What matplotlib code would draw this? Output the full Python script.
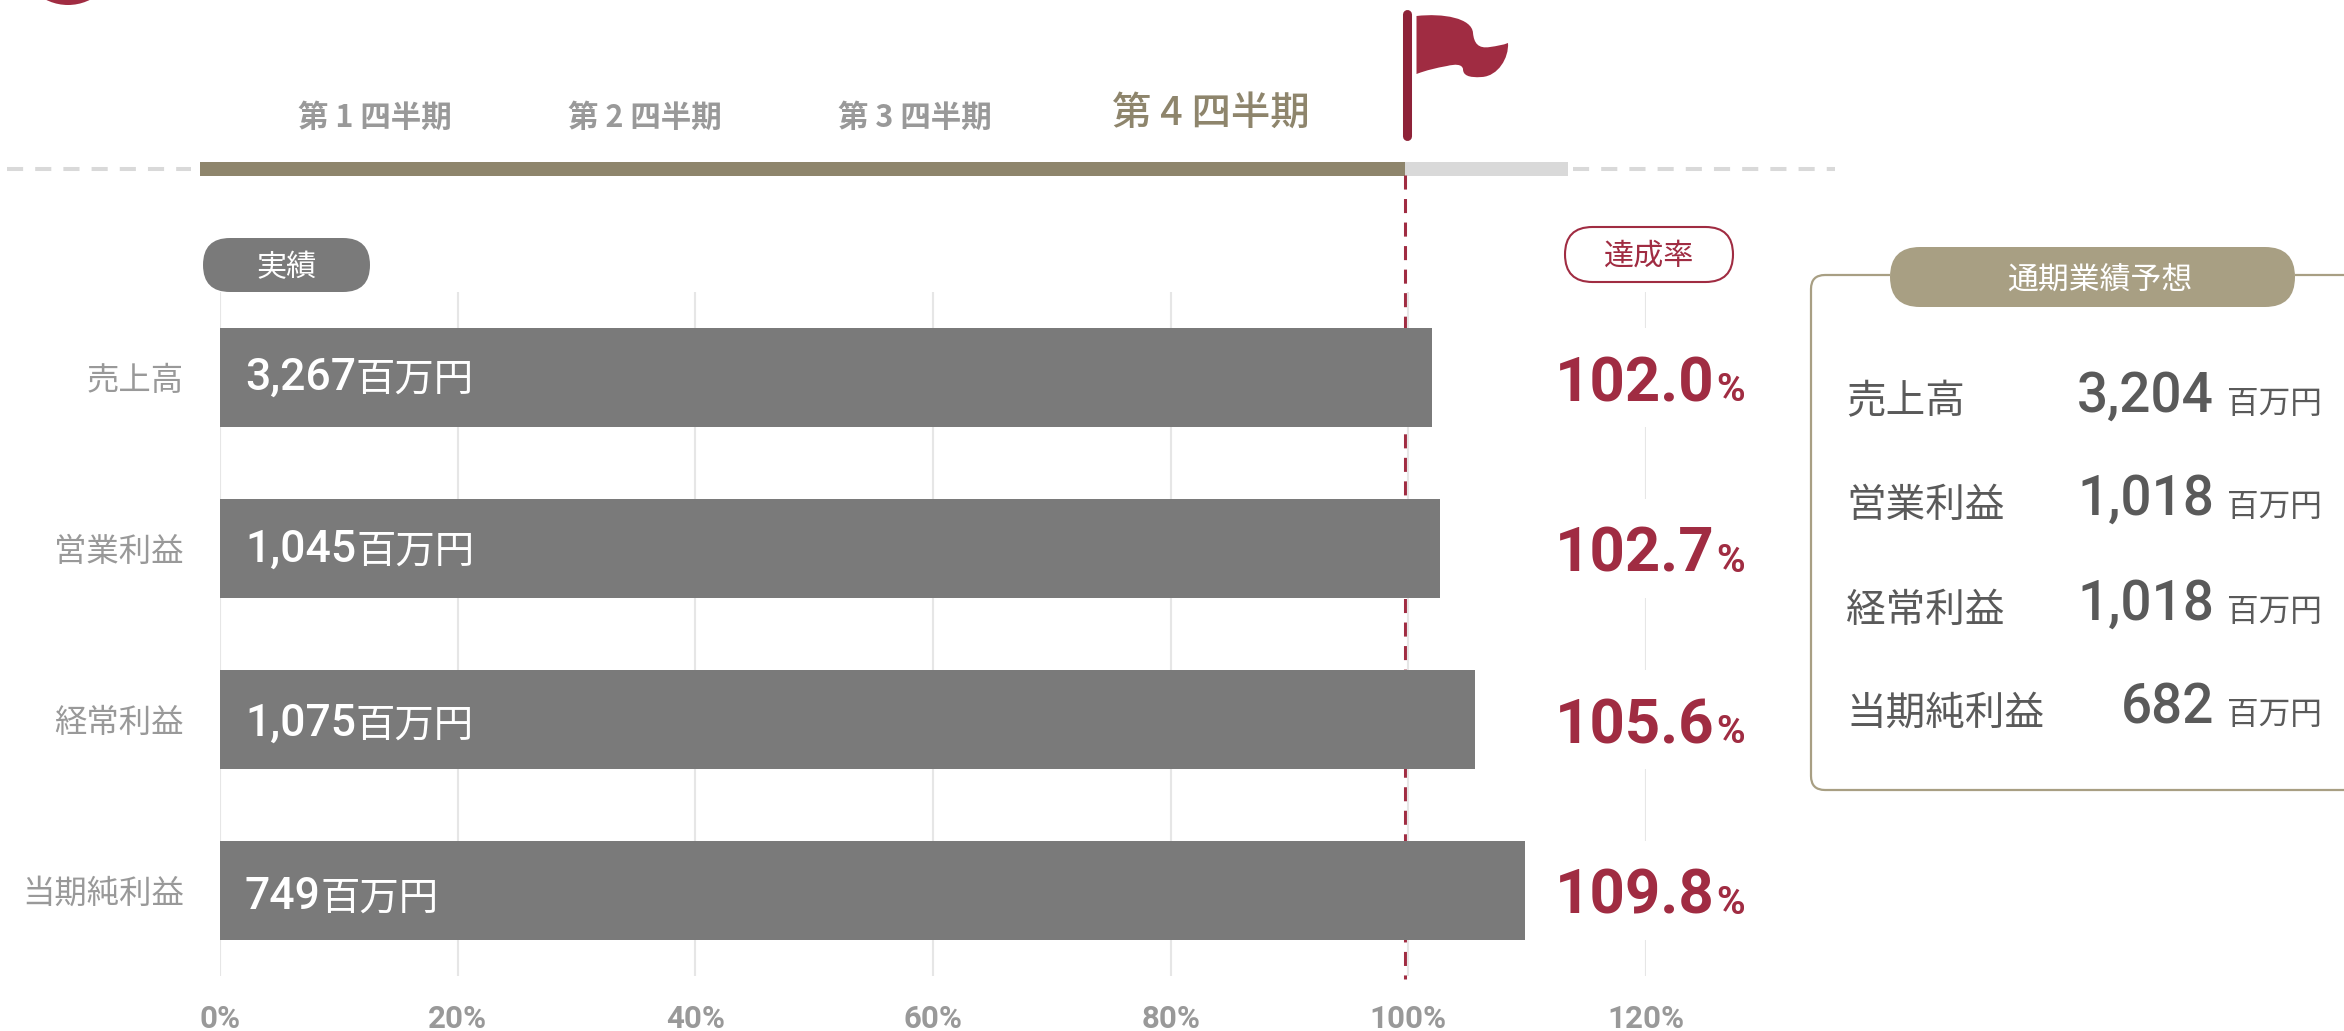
import matplotlib
matplotlib.use("Agg")
import matplotlib.pyplot as plt
from matplotlib.patches import Rectangle, FancyBboxPatch, PathPatch, Circle
from matplotlib.path import Path

W, H = 2344, 1031
CJK = "Noto Sans CJK JP"
LATIN = "Roboto"

CRIMSON = "#A02C42"
POLE = "#8E2238"
TAN_DARK = "#8E856C"
TAN = "#A89F83"
BAR_GREY = "#7A7A7A"
LABEL_GREY = "#999999"
TEXT_DARK = "#5A5A5A"
GRID = "#E6E6E6"
LIGHT = "#D9D9D9"

# Results against the full-year forecast
categories = ["売上高", "営業利益", "経常利益", "当期純利益"]
actual_mil_yen = [3267, 1045, 1075, 749]
achievement_pct = [102.0, 102.7, 105.6, 109.8]
forecast_mil_yen = [3204, 1018, 1018, 682]
quarters = ["第 1 四半期", "第 2 四半期", "第 3 四半期", "第 4 四半期"]
x_ticks = [0, 20, 40, 60, 80, 100, 120]
x_tick_labels = ["0%", "20%", "40%", "60%", "80%", "100%", "120%"]
unit = "百万円"

fig = plt.figure(figsize=(W / 100, H / 100), dpi=100, facecolor="white")


def overlay(z):
    a = fig.add_axes([0, 0, 1, 1], zorder=z)
    a.set_xlim(0, W)
    a.set_ylim(H, 0)
    a.axis("off")
    return a


back = overlay(0)
front = overlay(2)

# Bar panel, placed by pixel edges on the canvas
left, right, top, bottom = 220, 1646, 292, 976
ax = fig.add_axes([left / W, 1 - bottom / H, (right - left) / W, (bottom - top) / H], zorder=1)
ax.patch.set_visible(False)
ax.set_xlim(0, 120)
ax.set_ylim(3.5, -0.5)
for s in ax.spines.values():
    s.set_visible(False)

rows = list(range(len(categories)))
ax.vlines(x_ticks, -0.5, 3.5, color=GRID, lw=1.5, zorder=1)
ax.barh(rows, [4] * 4, left=118, height=0.575, color="white", zorder=2)
ax.barh(rows, achievement_pct, height=0.575, color=BAR_GREY, zorder=3)

ax.set_xticks(x_ticks)
ax.set_xticklabels(x_tick_labels, family=LATIN, fontweight="bold", fontsize=22.5, color=LABEL_GREY)
ax.set_yticks(rows)
ax.set_yticklabels(categories, family=CJK, fontsize=23.3, color=LABEL_GREY)
ax.tick_params(axis="x", length=0, pad=20)
ax.tick_params(axis="y", length=0, pad=26)

# Progress band and its dashed extensions
back.plot([7, 191], [169, 169], color=LIGHT, lw=2.9, dashes=(4, 3), dash_capstyle="butt")
back.plot([1573, 1835], [169, 169], color=LIGHT, lw=2.9, dashes=(4, 3), dash_capstyle="butt")
back.add_patch(Rectangle((200, 162), 1205, 14, fc=TAN_DARK, ec="none"))
back.add_patch(Rectangle((1405, 162), 163, 14, fc=LIGHT, ec="none"))
back.plot([1405, 1405], [175, 979], color=CRIMSON, lw=2.2, dashes=(4.6, 3.1), dash_capstyle="butt")

# Flag marking the full-year target
front.plot([1406.5, 1406.5], [14, 136], color=POLE, lw=6.5, solid_capstyle="round")
flag_path = Path(
    [(1416.5, 16), (1443, 13), (1472, 18), (1473, 33), (1474, 43), (1478, 49), (1490, 47),
     (1497, 46), (1503, 45), (1508, 43), (1509, 58), (1498, 76), (1482, 77), (1468, 78),
     (1463, 75), (1463, 69), (1462, 64), (1455, 64), (1447, 66), (1436, 68), (1427, 70),
     (1416.5, 74), (1416.5, 16)],
    [Path.MOVETO] + [Path.CURVE4] * 21 + [Path.CLOSEPOLY],
)
front.add_patch(PathPatch(flag_path, fc=CRIMSON, ec="none"))
front.add_patch(Circle((68, -44), 49, fc=CRIMSON, ec="none"))

# Quarter headings
quarter_x = [375, 645, 915]
for q, x in zip(quarters[:3], quarter_x):
    front.text(x, 114, q, family=CJK, fontweight="bold", fontsize=22, color=LABEL_GREY,
               ha="center", va="center_baseline")
front.text(1211, 109, quarters[3], family=CJK, fontweight="medium", fontsize=28.4, color=TAN_DARK,
           ha="center", va="center_baseline")


def pill(a, x0, y0, x1, y1, fc, ec="none", lw=0):
    r = (y1 - y0) / 2
    a.add_patch(FancyBboxPatch((x0 + r, y0 + r), x1 - x0 - 2 * r, 0,
                               boxstyle=f"round,pad={r},rounding_size={r}",
                               fc=fc, ec=ec, lw=lw))


pill(front, 203, 238, 370, 292, BAR_GREY)
front.text(287, 264, "実績", family=CJK, fontsize=21.7, color="white", ha="center", va="center_baseline")
pill(front, 1565, 227, 1733, 282, "white", CRIMSON, 1.5)
front.text(1649, 253, "達成率", family=CJK, fontsize=21.7, color=CRIMSON, ha="center", va="center_baseline")

# Forecast card: open on the right, broken at the top by its heading
card_path = Path(
    [(1890, 275), (1825, 275), (1811, 275), (1811, 289), (1811, 776), (1811, 790), (1825, 790), (W, 790),
     (2295, 275), (W, 275)],
    [Path.MOVETO, Path.LINETO, Path.CURVE3, Path.CURVE3, Path.LINETO, Path.CURVE3, Path.CURVE3, Path.LINETO,
     Path.MOVETO, Path.LINETO],
)
front.add_patch(PathPatch(card_path, fc="none", ec=TAN, lw=1.6))
pill(front, 1890, 247, 2295, 307, TAN)
front.text(2100, 277, "通期業績予想", family=CJK, fontsize=22.2, color="white", ha="center", va="center_baseline")

renderer = fig.canvas.get_renderer()


def bar_label(x, baseline, number):
    t = front.text(x, baseline, number, family=LATIN, fontweight="medium", fontsize=32, color="white",
                   ha="left", va="baseline")
    w = t.get_window_extent(renderer).width
    front.text(x + w, baseline + 1, unit, family=CJK, fontsize=28.4, color="white", ha="left", va="baseline")


bar_centres = [378, 549, 720, 891]
label_baselines = [390, 562, 736, 909]
for cy, base, value, pct in zip(bar_centres, label_baselines, actual_mil_yen, achievement_pct):
    bar_label(245, base, f"{value:,}")
    front.text(1715, cy + 23, f"{pct:.1f}", family=LATIN, fontweight="bold", fontsize=44.5, color=CRIMSON,
               ha="right", va="baseline")
    front.text(1716, cy + 23, "%", family=LATIN, fontweight="bold", fontsize=28, color=CRIMSON,
               ha="left", va="baseline")

card_rows = [398, 501, 606, 709]
for cy, name, value in zip(card_rows, categories, forecast_mil_yen):
    front.text(1846, cy, name, family=CJK, fontsize=28.5, color=TEXT_DARK, ha="left", va="center_baseline")
    front.text(2214, cy + 14, f"{value:,}", family=LATIN, fontweight="medium", fontsize=39.5, color=TEXT_DARK,
               ha="right", va="baseline")
    front.text(2227, cy + 15, unit, family=CJK, fontsize=22.8, color=TEXT_DARK, ha="left", va="baseline")

fig.savefig("out.png", dpi=100, facecolor="white")
